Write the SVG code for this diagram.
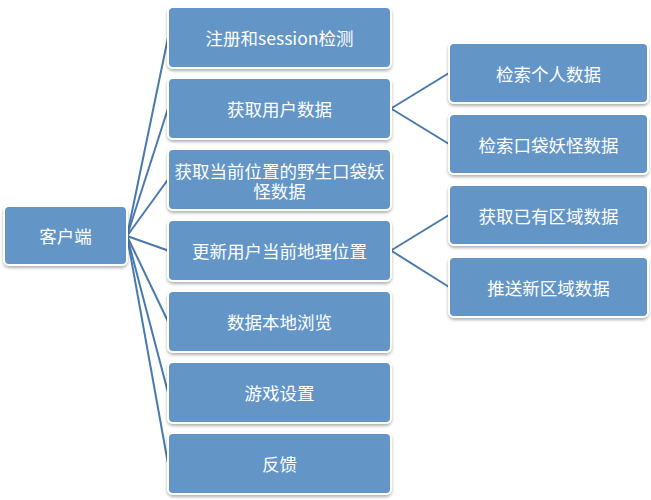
<svg xmlns="http://www.w3.org/2000/svg" width="651" height="500" viewBox="0 0 651 500">
<defs>
<filter id="sh" x="-10%" y="-10%" width="120%" height="130%">
<feDropShadow dx="0" dy="2" stdDeviation="1.5" flood-color="#000" flood-opacity="0.3"/>
</filter>
<style>
.box{fill:#6395c7;stroke:#ffffff;stroke-width:2;filter:url(#sh)}
.t{font-family:"Noto Sans CJK SC","Noto Sans",sans-serif;font-size:17.5px;fill:#ffffff;text-anchor:middle;dominant-baseline:central}
.c{stroke:#4a79ab;stroke-width:2;fill:none}
</style>
</defs>
<rect width="651" height="500" fill="#ffffff"/>
<g id="connectors">
<line class="c" x1="127" y1="236" x2="168" y2="37.5"/>
<line class="c" x1="127" y1="236" x2="168" y2="108.5"/>
<line class="c" x1="127" y1="236" x2="168" y2="179.5"/>
<line class="c" x1="127" y1="236" x2="168" y2="250.5"/>
<line class="c" x1="127" y1="236" x2="168" y2="321.5"/>
<line class="c" x1="127" y1="236" x2="168" y2="392.5"/>
<line class="c" x1="127" y1="236" x2="168" y2="463.5"/>
<line class="c" x1="391" y1="108.5" x2="449" y2="73"/>
<line class="c" x1="391" y1="108.5" x2="449" y2="144"/>
<line class="c" x1="391" y1="250.5" x2="449" y2="215"/>
<line class="c" x1="391" y1="250.5" x2="449" y2="287"/>
</g>
<g id="n0"><rect class="box" x="4" y="206" width="123" height="59" rx="5"/><text class="t" x="65.5" y="235.5">客户端</text></g>
<g id="n1"><rect class="box" x="168" y="7" width="223" height="61" rx="5"/><text class="t" x="279.5" y="37.5">注册和session检测</text></g>
<g id="n2"><rect class="box" x="168" y="78" width="223" height="61" rx="5"/><text class="t" x="279.5" y="108.5">获取用户数据</text></g>
<g id="n3"><rect class="box" x="168" y="149" width="223" height="61" rx="5"/><text class="t" x="279.5" y="169.5"><tspan x="279.5" y="169.5">获取当前位置的野生口袋妖</tspan><tspan x="279.5" y="189.5">怪数据</tspan></text></g>
<g id="n4"><rect class="box" x="168" y="220" width="223" height="61" rx="5"/><text class="t" x="279.5" y="250.5">更新用户当前地理位置</text></g>
<g id="n5"><rect class="box" x="168" y="291" width="223" height="61" rx="5"/><text class="t" x="279.5" y="321.5">数据本地浏览</text></g>
<g id="n6"><rect class="box" x="168" y="362" width="223" height="61" rx="5"/><text class="t" x="279.5" y="392.5">游戏设置</text></g>
<g id="n7"><rect class="box" x="168" y="433" width="223" height="61" rx="5"/><text class="t" x="279.5" y="463.5">反馈</text></g>
<g id="n8"><rect class="box" x="449" y="43" width="199" height="60" rx="5"/><text class="t" x="548.5" y="73">检索个人数据</text></g>
<g id="n9"><rect class="box" x="449" y="114" width="199" height="60" rx="5"/><text class="t" x="548.5" y="144">检索口袋妖怪数据</text></g>
<g id="n10"><rect class="box" x="449" y="185" width="199" height="60" rx="5"/><text class="t" x="548.5" y="215">获取已有区域数据</text></g>
<g id="n11"><rect class="box" x="449" y="257" width="199" height="60" rx="5"/><text class="t" x="548.5" y="287">推送新区域数据</text></g>
</svg>
